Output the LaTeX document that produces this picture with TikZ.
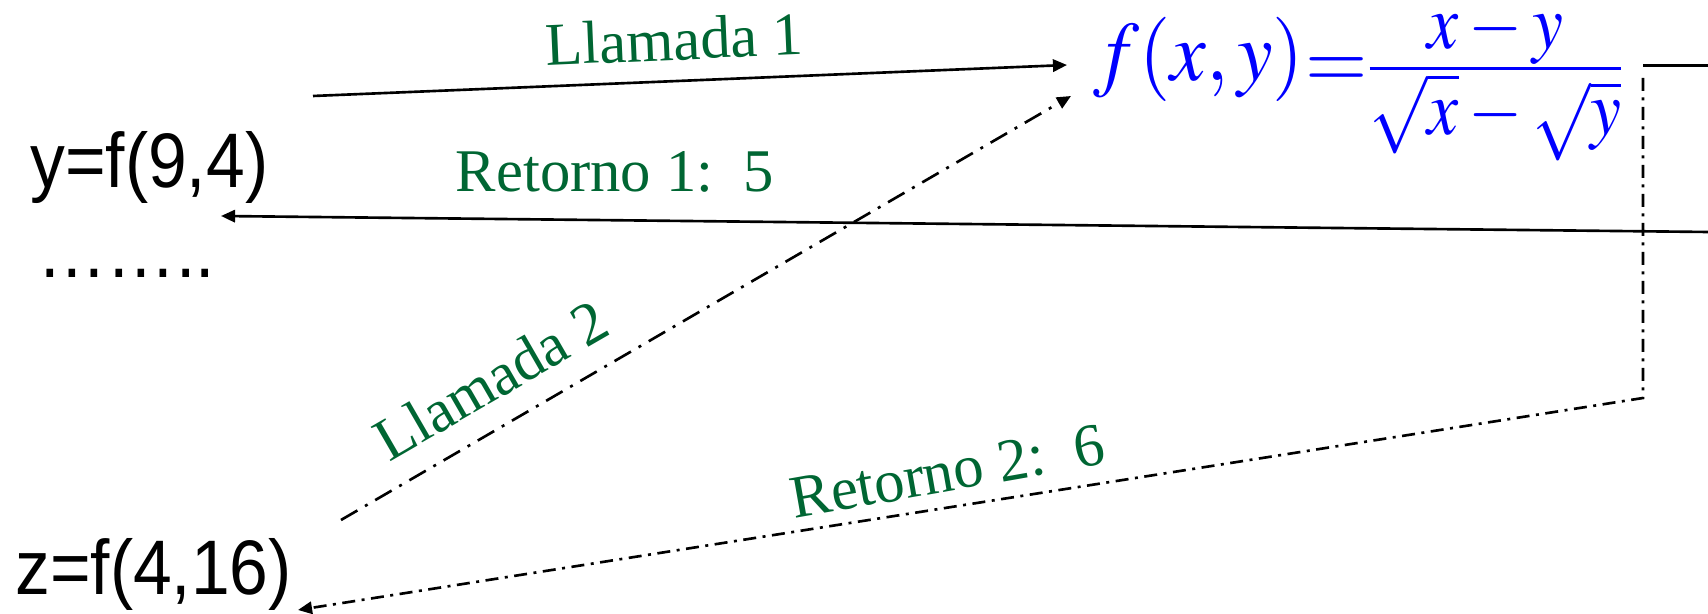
\documentclass[tikz,border=0pt]{standalone}
\usepackage{graphicx}
\usepackage{mathptmx}
\usepackage{fontspec}
\setmainfont{Liberation Serif}
\setsansfont{Liberation Sans}
\usetikzlibrary{arrows.meta}
\definecolor{labelgreen}{RGB}{0,102,51}

\begin{document}
\begin{tikzpicture}[
  call/.style={inner sep=0pt, anchor=base west, xscale=0.9,
               font=\fontsize{44}{46}\sffamily},
  tag/.style={inner sep=0pt, anchor=base, text=labelgreen,
              font=\fontsize{34.5}{38}\selectfont},
  formula/.style={inner sep=0pt, anchor=base west, text=blue, xscale=0.95,
                  font=\fontsize{48}{52}\selectfont},
  link/.style={line width=1.5pt},
  tip/.style={-{Triangle[length=8pt, width=7pt]}},
  dashdotlong/.style={dash pattern=on 10.8pt off 5pt on 1.7pt off 5pt},
  dashdotshort/.style={dash pattern=on 7.4pt off 3.7pt on 1.7pt off 3.7pt},
]
  \useasboundingbox (0,0) rectangle (34.16,12.28);

  % calls
  \node[call] (fy) at (0.6,8.52) {y=f(9,4)};
  \node[call] (more) at (0.74,6.73) {……..};
  \node[call] (fz) at (0.3,0.38) {z=f(4,16)};

  % function
  \node[formula] (func) at (21.86,10.66)
    {$f(x,y)\kern1pt$\raisebox{-4pt}{$\mathord{=}
      \scalebox{0.87}[0.92]{$\frac{\raisebox{-8pt}[\height][0pt]{$\textstyle x-y$}}
        {\textstyle\medmuskip=2mu\sqrt{x}-\sqrt{y}}$}$}};

  % connector ends
  \coordinate (c1a) at (6.26,10.36);
  \coordinate (c1b) at (21.34,10.98);
  \coordinate (c2a) at (6.82,1.88);
  \coordinate (c2b) at (21.42,10.36);
  \coordinate (r1a) at (34.16,7.64);
  \coordinate (r1b) at (4.42,7.96);
  \coordinate (topa) at (32.86,10.97);
  \coordinate (topb) at (34.16,10.97);
  \coordinate (r2a) at (32.86,10.72);
  \coordinate (r2c) at (32.86,4.32);
  \coordinate (r2b) at (5.96,0.08);

  % first call and return
  \draw[link, tip] (c1a) -- (c1b);
  \draw[link] (topa) -- (topb);
  \draw[link, tip] (r1a) -- (r1b);
  \node[tag, rotate=2.5] (l1) at (13.5,11.08) {Llamada 1};
  \node[tag] (t1) at (12.3,8.44) {Retorno 1:\ \ 5};

  % second call and return
  \draw[link, dashdotlong, tip] (c2a) -- (c2b);
  \draw[link, dashdotshort, tip] (r2a) -- (r2c) -- (r2b);
  \node[tag, rotate=30] (l2) at (10.02,4.32) {Llamada 2};
  \node[tag, rotate=10] (t2) at (19.02,2.46) {Retorno 2:\ \ 6};

\end{tikzpicture}
\end{document}
